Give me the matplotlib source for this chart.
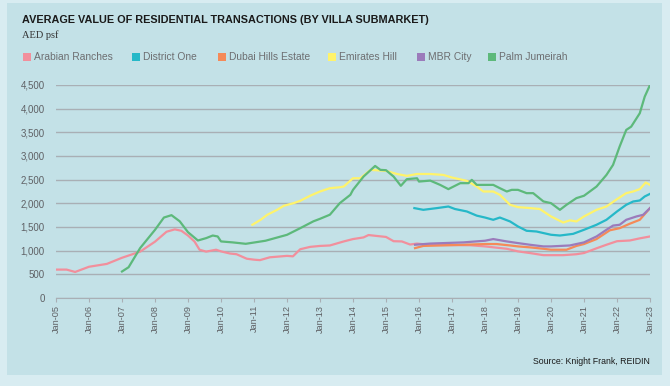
import matplotlib.pyplot as plt
from matplotlib.patches import Rectangle

# data (x = decimal year, y = AED psf)
ar_x = [2005.0, 2005.32, 2005.58, 2006.0, 2006.54, 2007.0, 2007.55, 2008.0, 2008.35, 2008.6,
        2008.8, 2009.0, 2009.2, 2009.35, 2009.55, 2009.85, 2010.0, 2010.27, 2010.47, 2010.78,
        2011.0, 2011.18, 2011.48, 2012.0, 2012.18, 2012.4, 2012.7, 2013.0, 2013.3, 2013.72,
        2014.0, 2014.32, 2014.47, 2014.73, 2015.0, 2015.23, 2015.48, 2015.73, 2015.94, 2016.34,
        2017.55, 2018.0, 2018.66, 2019.0, 2019.36, 2019.77, 2020.0, 2020.37, 2020.77, 2021.0,
        2021.38, 2021.68, 2022.0, 2022.39, 2022.69, 2023.0]
ar_y = [600, 600, 550, 660, 720, 850, 980, 1190, 1400, 1450,
        1420, 1320, 1190, 1020, 980, 1020, 985, 940, 925, 830,
        810, 800, 860, 890, 880, 1030, 1080, 1100, 1110, 1195,
        1245, 1280, 1330, 1310, 1290, 1200, 1195, 1130, 1150, 1120,
        1115, 1090, 1040, 985, 950, 905, 905, 905, 925, 950,
        1050, 1125, 1200, 1215, 1260, 1300]

d1_x = [2015.86, 2016.13, 2016.54, 2016.89, 2017.09, 2017.45, 2017.75, 2018.0, 2018.25, 2018.45,
        2018.76, 2019.0, 2019.26, 2019.56, 2020.0, 2020.27, 2020.67, 2021.0, 2021.38, 2021.68,
        2022.0, 2022.28, 2022.49, 2022.69, 2022.84, 2023.0]
d1_y = [1899, 1863, 1899, 1933, 1880, 1828, 1740, 1700, 1652, 1700,
        1617, 1511, 1420, 1405, 1336, 1320, 1355, 1441, 1547, 1652,
        1828, 1969, 2039, 2060, 2145, 2200]

dh_x = [2015.88, 2016.13, 2017.35, 2018.0, 2018.35, 2018.76, 2019.0, 2019.36, 2019.77, 2020.0,
        2020.47, 2020.77, 2021.0, 2021.38, 2021.78, 2022.08, 2022.39, 2022.69, 2023.0]
dh_y = [1054, 1100, 1125, 1140, 1140, 1110, 1090, 1070, 1040, 1020,
        1020, 1100, 1140, 1245, 1430, 1475, 1570, 1652, 1899]

eh_x = [2010.95, 2011.2, 2011.4, 2011.7, 2011.9, 2012.2, 2012.4, 2012.7, 2013.0, 2013.3,
        2013.6, 2013.72, 2014.0, 2014.22, 2014.53, 2015.0, 2015.33, 2015.63, 2015.94, 2016.34,
        2016.74, 2017.0, 2017.45, 2017.75, 2017.95, 2018.25, 2018.45, 2018.76, 2019.0, 2019.36,
        2019.66, 2020.0, 2020.37, 2020.57, 2020.77, 2021.0, 2021.38, 2021.68, 2022.0, 2022.28,
        2022.49, 2022.69, 2022.87, 2023.0]
eh_y = [1547, 1652, 1757, 1863, 1947, 2004, 2053, 2160, 2250, 2320,
        2340, 2355, 2530, 2530, 2707, 2686, 2620, 2580, 2620, 2620,
        2600, 2545, 2475, 2355, 2250, 2250, 2180, 1969, 1920, 1900,
        1880, 1723, 1595, 1640, 1617, 1723, 1863, 1933, 2088, 2215,
        2250, 2300, 2440, 2390]

mbr_x = [2015.88, 2016.34, 2017.35, 2018.0, 2018.25, 2018.66, 2019.0, 2019.36, 2019.77, 2020.0,
         2020.57, 2021.0, 2021.38, 2021.68, 2021.88, 2022.08, 2022.28, 2022.59, 2022.79, 2023.0]
mbr_y = [1125, 1150, 1175, 1210, 1245, 1195, 1160, 1125, 1090, 1090,
         1110, 1175, 1300, 1441, 1530, 1547, 1652, 1723, 1757, 1899]

pj_x = [2007.0, 2007.2, 2007.55, 2008.0, 2008.27, 2008.5, 2008.75, 2009.0, 2009.3, 2009.55,
        2009.75, 2009.9, 2010.0, 2010.35, 2010.75, 2011.35, 2012.0, 2012.4, 2012.8, 2013.0,
        2013.3, 2013.6, 2013.92, 2014.0, 2014.32, 2014.67, 2014.83, 2015.0, 2015.23, 2015.45,
        2015.63, 2015.94, 2016.0, 2016.34, 2016.64, 2016.89, 2017.25, 2017.5, 2017.6, 2017.75,
        2018.0, 2018.25, 2018.45, 2018.66, 2018.81, 2019.0, 2019.26, 2019.46, 2019.77, 2020.0,
        2020.27, 2020.47, 2020.77, 2021.0, 2021.38, 2021.68, 2021.88, 2022.08, 2022.28, 2022.43,
        2022.69, 2022.84, 2023.0]
pj_y = [560, 650, 1055, 1440, 1700, 1750, 1620, 1390, 1215, 1265,
        1320, 1300, 1195, 1175, 1145, 1210, 1335, 1475, 1620, 1673,
        1760, 2004, 2180, 2285, 2566, 2790, 2707, 2700, 2566, 2370,
        2510, 2530, 2460, 2480, 2390, 2300, 2426, 2426, 2496, 2390,
        2390, 2390, 2320, 2250, 2285, 2285, 2215, 2215, 2040, 2004,
        1863, 1969, 2110, 2160, 2355, 2600, 2812, 3200, 3551, 3620,
        3903, 4254, 4500]

names = ['Arabian Ranches', 'District One', 'Dubai Hills Estate', 'Emirates Hill', 'MBR City', 'Palm Jumeirah']
colors = ['#f28f9c', '#26b8c8', '#f58a58', '#fff36b', '#9b7bbb', '#5db97b']
series = [(ar_x, ar_y), (d1_x, d1_y), (dh_x, dh_y), (eh_x, eh_y), (mbr_x, mbr_y), (pj_x, pj_y)]

years = list(range(2005, 2024))
year_labels = ['Jan-%02d' % (y % 100) for y in years]
yticks = list(range(0, 5000, 500))

W, H = 670, 386
fig = plt.figure(figsize=(W / 100, H / 100), dpi=100)
fig.patch.set_facecolor('#d8ecf1')
fig.patches.append(Rectangle((7 / W, 1 - 375 / H), 655 / W, 372 / H, transform=fig.transFigure,
                             facecolor='#c3e1e7', edgecolor='none', zorder=-1))

ax = fig.add_axes([56 / W, 1 - 298 / H, 594 / W, 213 / H])
ax.set_zorder(2)
ax.set_facecolor('none')
for (x, y), c in zip(series, colors):
    ax.plot(x, y, color=c, lw=1.6, solid_joinstyle='round')

ax.set_xlim(2005, 2023)
ax.set_ylim(0, 4500)
ax.set_xticks(years)
ax.set_xticklabels(year_labels, rotation=90, fontsize=6.6, color='#5f6165', family='Liberation Sans')
ax.set_yticks(yticks)
ax.set_yticklabels(['{:,}'.format(v) for v in yticks], fontsize=7, color='#5f6165', family='Liberation Sans')
ax.tick_params(axis='y', length=0, pad=8)
ax.tick_params(axis='x', length=3, width=0.8, color='#a9afb5', pad=2)
for s in ['top', 'right', 'left']:
    ax.spines[s].set_visible(False)
ax.spines['bottom'].set_color('#a9afb5')
ax.grid(axis='y', color='#a9afb5', lw=1)
ax.set_axisbelow(True)

fig.text(22 / W, 1 - 20 / H, 'AVERAGE VALUE OF RESIDENTIAL TRANSACTIONS (BY VILLA SUBMARKET)',
         fontsize=7.8, fontweight='bold', family='Liberation Sans', color='#1a1a1a', va='center')
fig.text(22 / W, 1 - 35 / H, 'AED psf', fontsize=7.5, family='Liberation Serif', color='#333333', va='center')

leg_x = [23, 132, 218, 328, 417, 488]
for lx, name, c in zip(leg_x, names, colors):
    fig.patches.append(Rectangle((lx / W, 1 - 61 / H), 8 / W, 8 / H, transform=fig.transFigure,
                                 facecolor=c, edgecolor='none'))
    fig.text((lx + 11) / W, 1 - 57.5 / H, name, fontsize=7.4, family='Liberation Sans',
             color='#6d6e71', va='center')

fig.text(650 / W, 1 - 362 / H, 'Source: Knight Frank, REIDIN', fontsize=6.3, family='Liberation Sans',
         color='#1a1a1a', ha='right', va='center')

fig.savefig('out.png', dpi=100, facecolor=fig.get_facecolor())
